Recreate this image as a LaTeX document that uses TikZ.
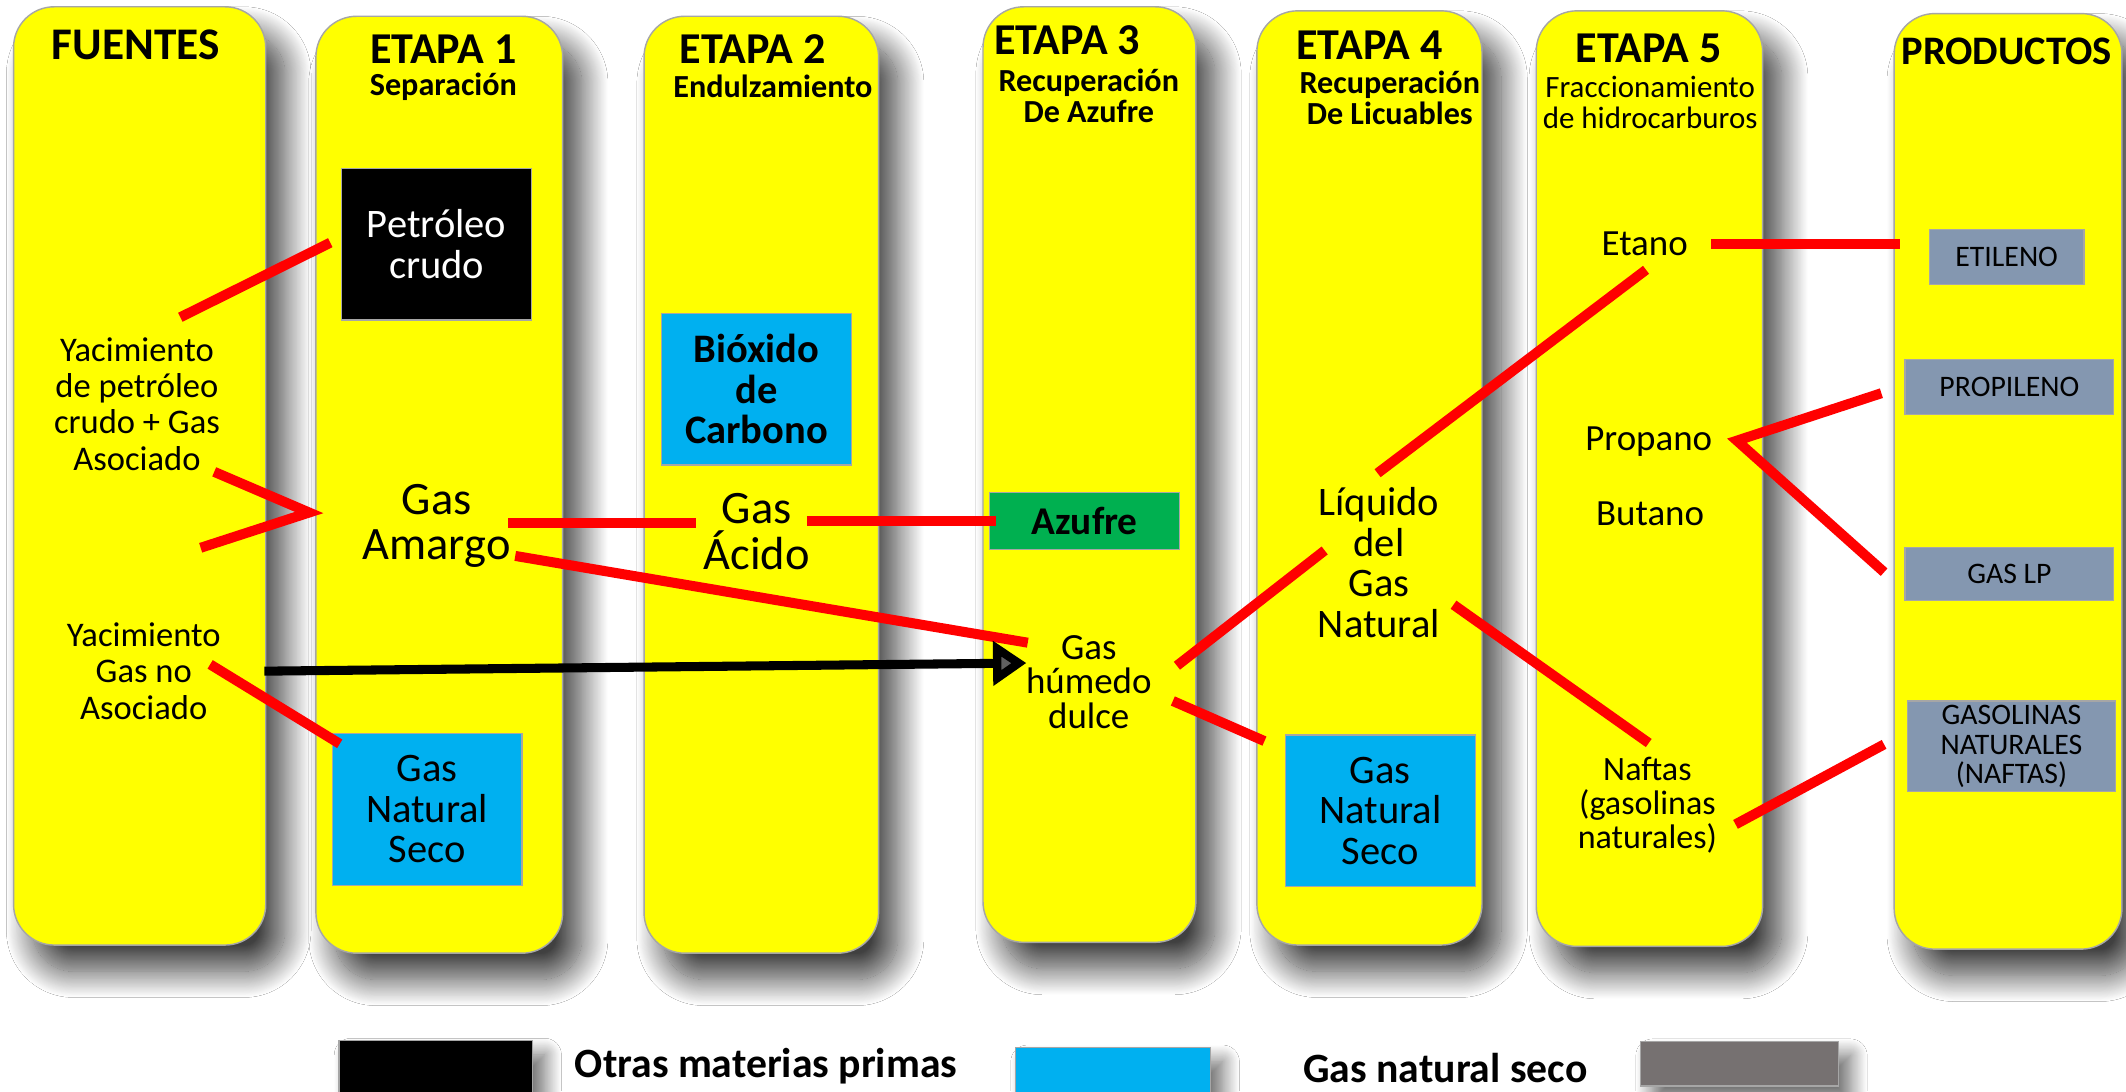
\documentclass[tikz,border=0pt]{standalone}
\usepackage{fontspec}
\setmainfont{Carlito}
\usetikzlibrary{arrows.meta,calc,shadows.blur}

\definecolor{amarillo}{HTML}{FFFF00}
\definecolor{cian}{HTML}{00B0F0}
\definecolor{verde}{HTML}{00B050}
\definecolor{grisazul}{HTML}{8497B0}
\definecolor{grisley}{HTML}{767171}
\definecolor{borde}{HTML}{A6A6A6}

\begin{document}
\begin{tikzpicture}[x=0.02cm, y=-0.02cm,
  columna/.style={fill=amarillo, draw=borde, line width=0.6pt, rounded corners=0.6cm,
    blur shadow={shadow xshift=8pt, shadow yshift=-11pt, shadow blur radius=11pt,
      shadow blur steps=30, shadow opacity=75}},
  caja/.style={draw=borde, line width=0.5pt, inner sep=0pt, align=center},
  cajaprod/.style={caja, fill=grisazul, font=\fontsize{12.5}{12.5}\selectfont},
  titulo/.style={font=\bfseries\fontsize{18.5}{20}\selectfont, inner sep=0pt},
  subtit/.style={font=\bfseries\fontsize{13.5}{13}\selectfont, align=center, inner sep=0pt},
  texto/.style={align=center, inner sep=0pt},
  enlace/.style={red, line width=4.2pt},
  leyenda/.style={draw=borde, line width=0.5pt, inner sep=0pt,
    blur shadow={shadow xshift=5pt, shadow yshift=-6pt, shadow blur radius=7pt,
      shadow blur steps=20, shadow opacity=60}},
]
\useasboundingbox (0,0) rectangle (1568,805);
\clip (0,0) rectangle (1568,805);
\fill[white] (0,0) rectangle (1568,805);

\path[columna] (10,5) rectangle (196,697);
\path[columna] (233,12) rectangle (415,703);
\path[columna] (475,12) rectangle (648,703);
\path[columna] (725,5) rectangle (882,695);
\path[columna] (927,8) rectangle (1093,697);
\path[columna] (1133,8) rectangle (1300,698);
\path[columna] (1397,10) rectangle (1565,700);

\node[titulo, font=\bfseries\fontsize{19}{20}\selectfont] (fuentes) at (100,33) {FUENTES};
\node[titulo] (etapa1) at (327,36) {ETAPA 1};
\node[subtit] (sep) at (327,64) {Separación};
\node[titulo] (etapa2) at (555,36) {ETAPA 2};
\node[subtit] (endul) at (570,64) {Endulzamiento};
\node[titulo] (etapa3) at (787,30) {ETAPA 3};
\node[subtit] (recaz) at (803,70.5) {Recuperación\\De Azufre};
\node[titulo] (etapa4) at (1010,33) {ETAPA 4};
\node[subtit] (reclic) at (1025,72.5) {Recuperación\\De Licuables};
\node[titulo] (etapa5) at (1216,36) {ETAPA 5};
\node[subtit, font=\fontsize{13}{13}\selectfont] (fracc) at (1217,75.5) {Fraccionamiento\\de hidrocarburos};
\node[titulo, font=\bfseries\fontsize{17}{18}\selectfont] (productos) at (1480,38) {PRODUCTOS};

\node[caja, fill=black, text=white, minimum width=2.8cm, minimum height=2.24cm,
  font=\fontsize{17}{17}\selectfont] (crudo) at (322,180) {Petróleo\\crudo};
\node[caja, fill=cian, minimum width=2.8cm, minimum height=2.24cm,
  font=\bfseries\fontsize{17}{17}\selectfont] (bioxido) at (558,287) {Bióxido\\de\\Carbono};
\node[caja, fill=verde, minimum width=2.8cm, minimum height=0.84cm,
  font=\bfseries\fontsize{16.5}{17}\selectfont] (azufre) at (800,384) {Azufre};
\node[caja, fill=cian, minimum width=2.8cm, minimum height=2.24cm,
  font=\fontsize{17}{17}\selectfont] (gns1) at (315,597) {Gas\\Natural\\Seco};
\node[caja, fill=cian, minimum width=2.8cm, minimum height=2.24cm,
  font=\fontsize{17}{17}\selectfont] (gns2) at (1018,598) {Gas\\Natural\\Seco};

\node[cajaprod, minimum width=2.28cm, minimum height=0.82cm] (etileno) at (1480,189.5) {ETILENO};
\node[cajaprod, minimum width=3.08cm, minimum height=0.82cm] (propileno) at (1482,285.5) {PROPILENO};
\node[cajaprod, minimum width=3.08cm, minimum height=0.78cm] (gaslp) at (1482,423.5) {GAS LP};
\node[cajaprod, minimum width=3.06cm, minimum height=1.34cm] (gasol) at (1483.5,550.5) {GASOLINAS\\NATURALES\\(NAFTAS)};

\node[texto, font=\fontsize{14.5}{15.2}\selectfont] (yac1) at (101,298) {Yacimiento\\de petróleo\\crudo + Gas\\Asociado};
\node[texto, font=\fontsize{14.5}{15.2}\selectfont] (yac2) at (106,495) {Yacimiento\\Gas no\\Asociado};
\node[texto, font=\fontsize{19.5}{19}\selectfont] (amargo) at (322,388) {Gas\\Amargo};
\node[texto, font=\fontsize{19.5}{19}\selectfont] (acido) at (558,392) {Gas\\Ácido};
\node[texto, font=\fontsize{15.5}{14.5}\selectfont] (humedo) at (803,503) {Gas\\húmedo\\dulce};
\node[texto, font=\fontsize{17}{17}\selectfont] (liquido) at (1017,415) {Líquido\\del\\Gas\\Natural};
\node[texto, font=\fontsize{15.5}{16}\selectfont] (etano) at (1213,180) {Etano};
\node[texto, font=\fontsize{15.5}{16}\selectfont] (propano) at (1216,326) {Propano};
\node[texto, font=\fontsize{15.5}{16}\selectfont] (butano) at (1217,379) {Butano};
\node[texto, font=\fontsize{14.3}{14.2}\selectfont] (naftas) at (1215,594) {Naftas\\(gasolinas\\naturales)};

\draw[enlace] ($(yac1)+(32,-64)$) -- ($(crudo.west)+(-8,-1)$);
\draw[enlace] ($(yac1)+(57,50)$) -- ($(amargo)+(-94,-10)$) -- ($(amargo)+(-174,16)$);
\draw[enlace] ($(amargo)+(53,-2)$) -- ($(acido)+(-45,-6)$);
\draw[enlace] ($(acido)+(37,-8)$) -- ($(azufre.west)+(5,0)$);
\draw[enlace] ($(amargo)+(58,22)$) -- ($(humedo)+(-45,-29)$);
\draw[enlace] ($(yac2)+(49,-5)$) -- ($(gns1.north west)+(6,8)$);
\draw[enlace] ($(humedo)+(65,-12)$) -- ($(liquido)+(-40,-9)$);
\draw[enlace] ($(humedo)+(62,14)$) -- ($(gns2.north west)+(-15,5)$);
\draw[enlace] ($(liquido)+(-1,-66)$) -- ($(etano)+(1,19)$);
\draw[enlace] ($(liquido)+(55,31)$) -- ($(naftas)+(1,-46)$);
\draw[enlace] ($(etano)+(49,0)$) -- ($(etileno.west)+(-21,-9.5)$);
\draw[enlace] ($(propileno.west)+(-17,4.5)$) -- ($(propano)+(65,-1)$) -- ($(gaslp.west)+(-15,-1.5)$);
\draw[enlace] ($(naftas)+(65,14)$) -- ($(gasol.west)+(-17,-1.5)$);

\draw[line width=3.8pt, -{Triangle[length=14pt, width=18pt]}] ($(yac2)+(89,0)$) -- ($(humedo)+(-46,-14)$);

\node[leyenda, fill=black, minimum width=2.86cm, minimum height=0.9cm] (leg1) at (321.5,790) {};
\node[leyenda, fill=cian, minimum width=2.88cm, minimum height=0.9cm] (leg2) at (821,795) {};
\node[leyenda, fill=grisley, minimum width=2.92cm, minimum height=0.66cm] (leg3) at (1283,784.5) {};
\node[font=\bfseries\fontsize{17.5}{18}\selectfont, inner sep=0pt] (ley1) at (565,786) {Otras materias primas};
\node[font=\bfseries\fontsize{17.5}{18}\selectfont, inner sep=0pt] (ley2) at (1066,788) {Gas natural seco};
\end{tikzpicture}
\end{document}
